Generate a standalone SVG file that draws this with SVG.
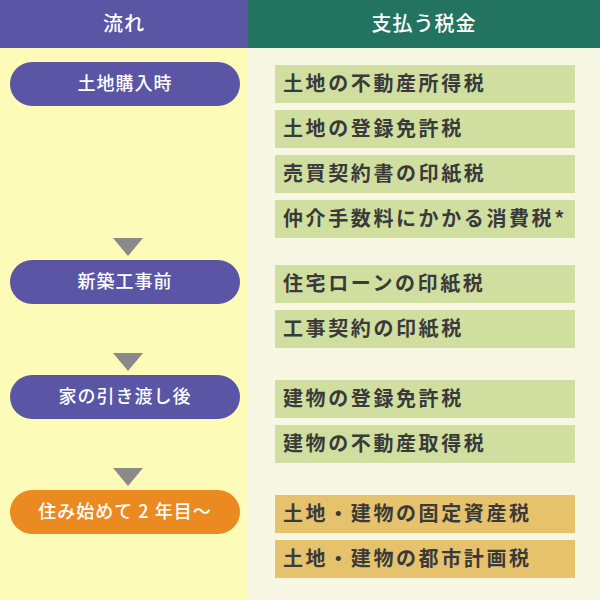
<svg xmlns="http://www.w3.org/2000/svg" width="600" height="600" viewBox="0 0 600 600">
<style>
text{font-family:"Noto Sans CJK JP","Noto Sans",sans-serif;font-size:20px;font-weight:bold}
.h{fill:#fff;text-anchor:middle;font-weight:500;letter-spacing:1px}
.p{fill:#fff;text-anchor:middle;font-weight:500;font-size:18px;letter-spacing:1px}
.g{fill:#d0dfa0}
.o{fill:#e6c26c}
.t{fill:#3a3a3a;letter-spacing:2.6px}
.tri{fill:#8a8a8a}
</style>
<rect x="0" y="0" width="248" height="600" fill="#fdfbb8"/>
<rect x="248" y="0" width="352" height="600" fill="#f8f7e4"/>
<g id="header">
<rect x="0" y="0" width="248" height="48" fill="#5a56a5"/>
<rect x="248" y="0" width="352" height="48" fill="#237361"/>
<text class="h" x="124" y="31">流れ</text>
<text class="h" x="424" y="31">支払う税金</text>
</g>
<g id="step1"><rect x="10" y="62" width="230" height="44" rx="22" fill="#5a56a5"/><text class="p" x="125" y="90">土地購入時</text></g>
<g id="step2"><rect x="10" y="260" width="230" height="44" rx="22" fill="#5a56a5"/><text class="p" x="125" y="288">新築工事前</text></g>
<g id="step3"><rect x="10" y="375" width="230" height="44" rx="22" fill="#5a56a5"/><text class="p" x="125" y="403">家の引き渡し後</text></g>
<g id="step4"><rect x="10" y="490" width="230" height="44" rx="22" fill="#ec8a22"/><text class="p" x="125" y="518">住み始めて 2 年目～</text></g>
<g id="connectors">
<polygon class="tri" points="113,238 143,238 128,256"/>
<polygon class="tri" points="113,353 143,353 128,371"/>
<polygon class="tri" points="113,468 143,468 128,486"/>
</g>
<g id="taxes">
<rect class="g" x="275" y="65" width="300" height="38"/><text class="t" x="283" y="91">土地の不動産所得税</text>
<rect class="g" x="275" y="110" width="300" height="38"/><text class="t" x="283" y="136">土地の登録免許税</text>
<rect class="g" x="275" y="155" width="300" height="38"/><text class="t" x="283" y="181">売買契約書の印紙税</text>
<rect class="g" x="275" y="200" width="300" height="38"/><text class="t" x="283" y="226">仲介手数料にかかる消費税*</text>
<rect class="g" x="275" y="265" width="300" height="38"/><text class="t" x="283" y="291">住宅ローンの印紙税</text>
<rect class="g" x="275" y="310" width="300" height="38"/><text class="t" x="283" y="336">工事契約の印紙税</text>
<rect class="g" x="275" y="380" width="300" height="38"/><text class="t" x="283" y="406">建物の登録免許税</text>
<rect class="g" x="275" y="425" width="300" height="38"/><text class="t" x="283" y="451">建物の不動産取得税</text>
<rect class="o" x="275" y="495" width="300" height="38"/><text class="t" x="283" y="521">土地・建物の固定資産税</text>
<rect class="o" x="275" y="540" width="300" height="38"/><text class="t" x="283" y="566">土地・建物の都市計画税</text>
</g>
</svg>
